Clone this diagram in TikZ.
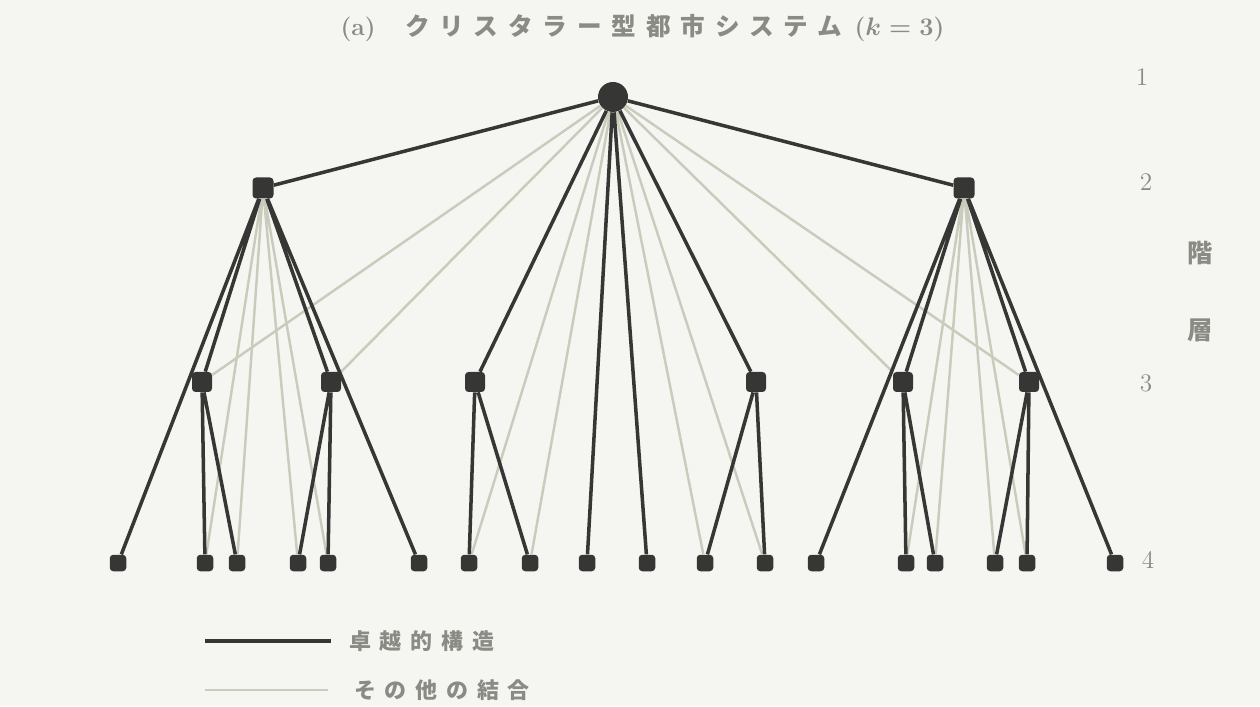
\documentclass[tikz,border=0pt]{standalone}
\usepackage{fontspec}
\newfontfamily\jptitle[LetterSpace=40]{Noto Sans CJK JP}
\newfontfamily\jpfont{Noto Sans CJK JP}
\definecolor{paper}{HTML}{F5F6F1}
\definecolor{ink}{HTML}{363634}
\definecolor{pale}{HTML}{C9CCBC}
\definecolor{txt}{HTML}{8A8B84}

\tikzset{
    city/.style={fill=ink,inner sep=0pt,rounded corners=2pt},
    ordone/.style={city,circle,minimum size=0.60cm},
    ordtwo/.style={city,minimum size=0.42cm},
    ordthree/.style={city,minimum size=0.40cm},
    ordfour/.style={city,minimum size=0.33cm},
    dom/.style={draw=ink,line width=2pt},
    other/.style={draw=pale,line width=1.4pt},
    lvl/.style={text=txt,font=\Large}
}

\begin{document}
\begin{tikzpicture}[x=1cm,y=1cm]
    \fill[paper] (0,0) rectangle (25.2,14.12);
    \node[text=txt,font=\fontsize{14}{16}\selectfont] (title) at (12.85,13.56)
        {\bfseries (a)\hspace{1.2em}{\jptitle\bfseries クリスタラー型都市システム}\hspace{0.5em}({\boldmath$k=3$})};

    \node[ordone] (c1) at (12.26,12.18) {};
    \node[ordtwo] (c2a) at (5.26,10.36) {};
    \node[ordtwo] (c2b) at (19.28,10.36) {};

    \node[ordthree] (c3a) at (4.04,6.48) {};
    \node[ordthree] (c3b) at (6.62,6.48) {};
    \node[ordthree] (c3c) at (9.50,6.48) {};
    \node[ordthree] (c3d) at (15.12,6.48) {};
    \node[ordthree] (c3e) at (18.06,6.48) {};
    \node[ordthree] (c3f) at (20.58,6.48) {};

    \node[ordfour] (c4a) at (2.36,2.86) {};
    \node[ordfour] (c4b) at (4.10,2.86) {};
    \node[ordfour] (c4c) at (4.74,2.86) {};
    \node[ordfour] (c4d) at (5.96,2.86) {};
    \node[ordfour] (c4e) at (6.56,2.86) {};
    \node[ordfour] (c4f) at (8.38,2.86) {};
    \node[ordfour] (c4g) at (9.38,2.86) {};
    \node[ordfour] (c4h) at (10.60,2.86) {};
    \node[ordfour] (c4i) at (11.74,2.86) {};
    \node[ordfour] (c4j) at (12.94,2.86) {};
    \node[ordfour] (c4k) at (14.10,2.86) {};
    \node[ordfour] (c4l) at (15.30,2.86) {};
    \node[ordfour] (c4m) at (16.32,2.86) {};
    \node[ordfour] (c4n) at (18.12,2.86) {};
    \node[ordfour] (c4o) at (18.70,2.86) {};
    \node[ordfour] (c4p) at (19.90,2.86) {};
    \node[ordfour] (c4q) at (20.54,2.86) {};
    \node[ordfour] (c4r) at (22.30,2.86) {};

    \draw[other] (c1) -- (c3a) (c1) -- (c3b) (c1) -- (c3e) (c1) -- (c3f);
    \draw[other] (c1) -- (c4g) (c1) -- (c4h) (c1) -- (c4k) (c1) -- (c4l);
    \draw[other] (c2a) -- (c4b) (c2a) -- (c4c) (c2a) -- (c4d) (c2a) -- (c4e);
    \draw[other] (c2b) -- (c4n) (c2b) -- (c4o) (c2b) -- (c4p) (c2b) -- (c4q);

    \draw[dom] (c1) -- (c2a) (c1) -- (c2b) (c1) -- (c3c) (c1) -- (c3d);
    \draw[dom] (c1) -- (c4i) (c1) -- (c4j);
    \draw[dom] (c2a) -- (c3a) (c2a) -- (c3b) (c2a) -- (c4a) (c2a) -- (c4f);
    \draw[dom] (c2b) -- (c3e) (c2b) -- (c3f) (c2b) -- (c4m) (c2b) -- (c4r);
    \draw[dom] (c3a) -- (c4b) (c3a) -- (c4c) (c3b) -- (c4d) (c3b) -- (c4e);
    \draw[dom] (c3c) -- (c4g) (c3c) -- (c4h) (c3d) -- (c4k) (c3d) -- (c4l);
    \draw[dom] (c3e) -- (c4n) (c3e) -- (c4o) (c3f) -- (c4p) (c3f) -- (c4q);

    \node[lvl] (l1) at (22.84,12.58) {1};
    \node[lvl] (l2) at (22.92,10.48) {2};
    \node[lvl] (l3) at (22.92,6.46) {3};
    \node[lvl] (l4) at (22.96,2.92) {4};
    \node[text=txt,font=\jpfont\bfseries\Large] (kai) at (24.00,9.06) {階};
    \node[text=txt,font=\jpfont\bfseries\Large] (so) at (24.00,7.52) {層};

    \coordinate (ka) at (4.10,1.30);
    \coordinate (kb) at (6.62,1.30);
    \coordinate (sa) at (4.10,0.32);
    \coordinate (sb) at (6.56,0.32);
    \draw[dom] (ka) -- (kb);
    \draw[other] (sa) -- (sb);
    \node[anchor=west,text=txt,font=\jptitle\bfseries\fontsize{12.5}{14}\selectfont] (keydom) at (6.86,1.30)
        {卓越的構造};
    \node[anchor=west,text=txt,font=\jptitle\bfseries\fontsize{12.5}{14}\selectfont] (keyother) at (6.96,0.32)
        {その他の結合};
\end{tikzpicture}
\end{document}
